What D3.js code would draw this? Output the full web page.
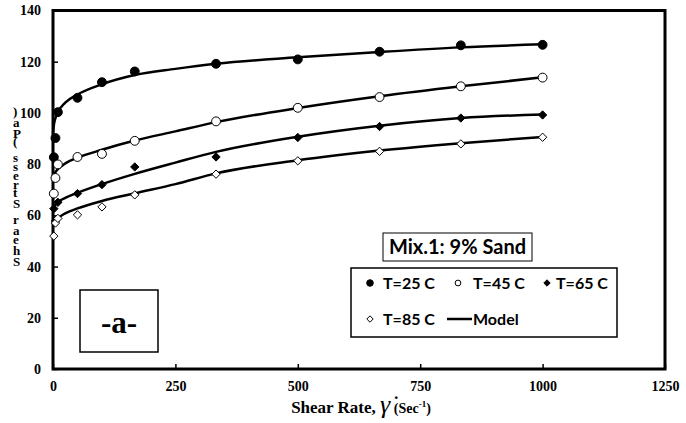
<!DOCTYPE html>
<html><head><meta charset="utf-8">
<script src="https://cdn.jsdelivr.net/npm/d3@7"></script>
<style>body{margin:0;background:#fff}</style>
</head><body><svg id="c" width="686" height="423"></svg>
<script>
// ---- data ----
const shearRate = [1.7, 5, 10, 50, 100, 167, 333, 500, 667, 833, 1000];
const t25 = [82.7, 90.2, 100.3, 105.9, 112.0, 116.2, 119.2, 120.9, 123.9, 126.4, 126.6];
const t45 = [68.5, 74.6, 79.9, 82.8, 84.0, 89.1, 96.7, 102.0, 106.2, 110.4, 113.8];
const t65 = [62.6, 57.8, 65.1, 68.5, 72.0, 78.9, 82.8, 90.4, 94.7, 98.0, 99.2];
const t85 = [51.9, 57.0, 58.8, 60.2, 63.3, 68.0, 76.1, 81.3, 85.0, 87.9, 90.5];

const modelRate = [0, 2, 5, 10, 25, 50, 100, 167, 250, 333, 500, 667, 833, 1000];
const model25 = [92.0, 95.5, 98.0, 100.3, 104.0, 107.2, 111.2, 114.8, 117.2, 119.2, 121.7, 123.8, 125.6, 126.8];
const model45 = [74.5, 75.8, 76.9, 78.0, 80.3, 82.5, 85.6, 89.2, 92.8, 96.4, 101.9, 106.5, 110.4, 113.9];
const model65 = [62.5, 63.3, 64.2, 65.2, 66.8, 68.8, 72.2, 76.2, 80.6, 84.8, 90.7, 95.0, 98.0, 99.4];
const model85 = [55.5, 56.6, 57.7, 58.8, 60.8, 62.7, 65.6, 68.6, 72.2, 76.4, 81.5, 85.3, 88.2, 90.6];

const xTicks = [0, 250, 500, 750, 1000, 1250];
const yTicks = [0, 20, 40, 60, 80, 100, 120, 140];
const seriesNames = ["T=25 C", "T=45 C", "T=65 C", "T=85 C"];
const legendModel = "Model";
const boxTitle = "Mix.1: 9% Sand";
const panelLabel = "-a-";
const yTitle = "Shear Stress (Pa)";

// ---- layout ----
const svg = d3.select("#c");
const L = 53, R = 665, T = 10.5, B = 369;
const x = d3.scaleLinear().domain([0, 1250]).range([L, R]);
const y = d3.scaleLinear().domain([0, 140]).range([B, T]);
const serif = "'Liberation Serif','Times New Roman',serif";
const sans = "Lato,'Open Sans',sans-serif";

svg.append("rect").attr("width", 686).attr("height", 423).attr("fill", "#fff");

// axes
const gx = svg.append("g").attr("transform", `translate(0,${B})`)
  .call(d3.axisBottom(x).tickValues(xTicks).tickSize(-5).tickPadding(12).tickFormat(d3.format("d")));
const gy = svg.append("g").attr("transform", `translate(${L},0)`)
  .call(d3.axisLeft(y).tickValues(yTicks).tickSize(-5).tickPadding(12).tickFormat(d3.format("d")));
[gx, gy].forEach(g => {
  g.select(".domain").remove();
  g.selectAll(".tick line").attr("stroke", "#000").attr("stroke-width", 1.5);
  g.selectAll(".tick text").attr("font-family", serif).attr("font-weight", "bold")
    .attr("font-size", 14).attr("fill", "#000");
});
// frame
svg.append("rect").attr("x", L).attr("y", T).attr("width", R - L).attr("height", B - T)
  .attr("fill", "none").attr("stroke", "#000").attr("stroke-width", 3);

// model lines
const line = d3.line().x((d, i) => x(modelRate[i])).y(d => y(d)).curve(d3.curveMonotoneX);
[model25, model45, model65, model85].forEach(m => {
  svg.append("path").attr("d", line(m)).attr("fill", "none").attr("stroke", "#000").attr("stroke-width", 2.5);
});

// markers
const diamondType = d3.symbolDiamond2 || d3.symbolDiamond;
const styles = [
  {type: d3.symbolCircle, size: 62, fill: "#000"},
  {type: d3.symbolCircle, size: 62, fill: "#fff"},
  {type: diamondType, size: 44, fill: "#000"},
  {type: diamondType, size: 44, fill: "#fff"}
];
[t25, t45, t65, t85].forEach((s, k) => {
  const st = styles[k];
  svg.append("g").selectAll("path").data(s).join("path")
    .attr("transform", (d, i) => `translate(${x(shearRate[i])},${y(d)})`)
    .attr("d", d3.symbol().type(st.type).size(st.size))
    .attr("fill", st.fill).attr("stroke", "#000").attr("stroke-width", 1);
});

// panel label box
svg.append("rect").attr("x", 80).attr("y", 290).attr("width", 78).attr("height", 62)
  .attr("fill", "#fff").attr("stroke", "#000").attr("stroke-width", 1.5);
svg.append("text").attr("x", 119).attr("y", 333).attr("text-anchor", "middle")
  .attr("font-family", serif).attr("font-weight", "bold").attr("font-size", 31).text(panelLabel);

// mix title box
svg.append("rect").attr("x", 383).attr("y", 233).attr("width", 149).attr("height", 28)
  .attr("fill", "#fff").attr("stroke", "#000").attr("stroke-width", 1);
svg.append("text").attr("x", 457.5).attr("y", 254).attr("text-anchor", "middle")
  .attr("font-family", sans).attr("font-weight", "bold").attr("font-size", 20).text(boxTitle);

// legend
svg.append("rect").attr("x", 351).attr("y", 268).attr("width", 266).attr("height", 69)
  .attr("fill", "#fff").attr("stroke", "#000").attr("stroke-width", 1.5);
const legItems = [
  {k: 0, mx: 370, my: 283, tx: 383},
  {k: 1, mx: 458, my: 283, tx: 473},
  {k: 2, mx: 547, my: 283, tx: 556},
  {k: 3, mx: 370, my: 319, tx: 383}
];
const legSizes = [34, 26, 26, 26];
legItems.forEach(it => {
  const st = styles[it.k];
  svg.append("path").attr("transform", `translate(${it.mx},${it.my})`)
    .attr("d", d3.symbol().type(st.type).size(legSizes[it.k]))
    .attr("fill", st.fill).attr("stroke", "#000").attr("stroke-width", 1);
  svg.append("text").attr("x", it.tx).attr("y", it.my + 5.5)
    .attr("font-family", sans).attr("font-weight", "bold").attr("font-size", 16).text(seriesNames[it.k]);
});
svg.append("line").attr("x1", 447).attr("x2", 472).attr("y1", 319).attr("y2", 319)
  .attr("stroke", "#000").attr("stroke-width", 2.5);
svg.append("text").attr("x", 473).attr("y", 324.5)
  .attr("font-family", sans).attr("font-weight", "bold").attr("font-size", 16).text(legendModel);

// x-axis title
const xt = svg.append("text").attr("x", 361).attr("y", 413).attr("text-anchor", "middle")
  .attr("font-family", serif).attr("font-weight", "bold").attr("fill", "#000");
xt.append("tspan").attr("font-size", 17).text("Shear Rate, ");
xt.append("tspan").attr("font-size", 26).attr("font-style", "italic").attr("font-weight", "normal").text("\u03B3\u0307");
xt.append("tspan").attr("font-size", 14).text(" (Sec");
xt.append("tspan").attr("font-size", 9).attr("dy", -6).text("-1");
xt.append("tspan").attr("font-size", 14).attr("dy", 6).text(")");

// y-axis title (glyphs stacked upright, reading bottom to top)
const chars = yTitle.split("");
svg.append("text")
  .attr("transform", "translate(13,266) rotate(-90)")
  .attr("font-family", serif).attr("font-weight", "bold").attr("font-size", 13)
  .attr("rotate", chars.map(() => 90).join(" "))
  .attr("textLength", 154).attr("lengthAdjust", "spacing")
  .text(yTitle);
</script></body></html>
